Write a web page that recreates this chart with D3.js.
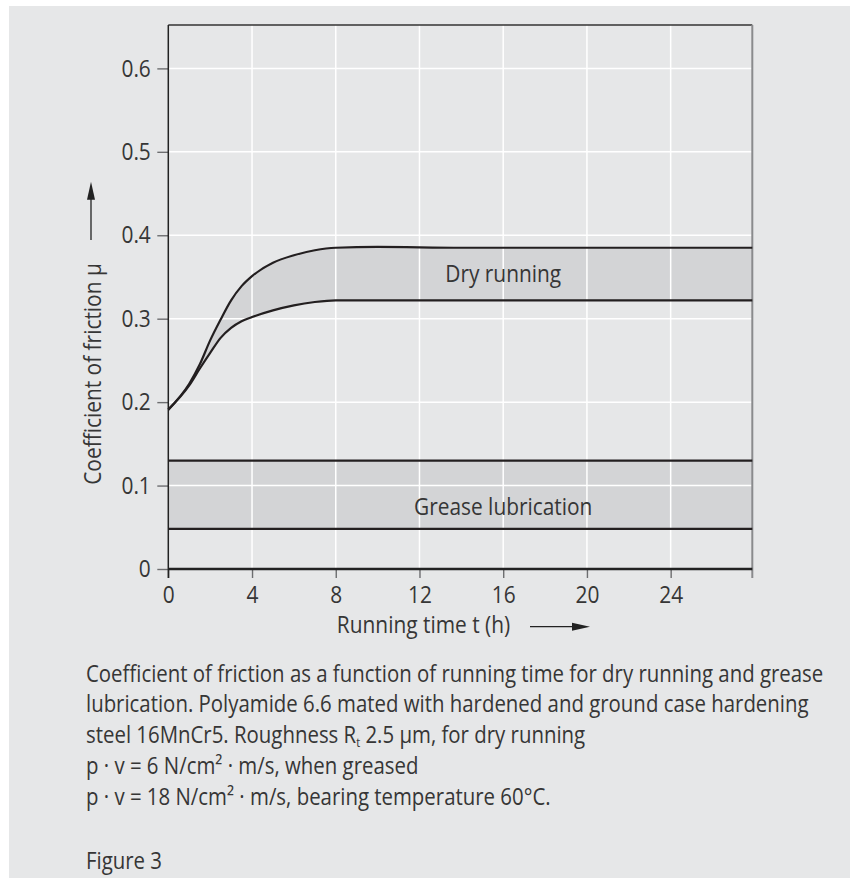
<!DOCTYPE html>
<html>
<head>
<meta charset="utf-8">
<script src="https://cdn.jsdelivr.net/npm/d3@7"></script>
<style>
  html, body { margin: 0; padding: 0; background: #fff; }
  svg { display: block; }
  text { font-family: "Open Sans", "Noto Sans", sans-serif; font-weight: 400; fill: #363636; }
</style>
</head>
<body>
<div id="chart"></div>
<script>
// running time (h) on a shared grid for the dry running band
var dryTime  = [0, 1, 1.5, 2, 2.5, 3, 3.5, 4, 5, 6, 7, 8, 10, 14, 27.9];
var dryUpper = [0.191, 0.222, 0.245, 0.274, 0.299, 0.322, 0.339, 0.351, 0.367, 0.376, 0.382, 0.385, 0.386, 0.385, 0.385];
var dryLower = [0.191, 0.220, 0.240, 0.259, 0.277, 0.289, 0.297, 0.302, 0.310, 0.316, 0.320, 0.322, 0.322, 0.322, 0.322];

// grease lubrication band, flat over the whole running time
var greaseTime  = [0, 27.9];
var greaseUpper = [0.130, 0.130];
var greaseLower = [0.048, 0.048];

var xTicks = [0, 4, 8, 12, 16, 20, 24];
var yTicks = [0, 0.1, 0.2, 0.3, 0.4, 0.5, 0.6];

var bandLabels = [
  { text: "Dry running", t: 16, mu: 0.344 },
  { text: "Grease lubrication", t: 16, mu: 0.065 }
];

var captionLines = [
  "Coefficient of friction as a function of running time for dry running and grease",
  "lubrication. Polyamide 6.6 mated with hardened and ground case hardening",
  ["steel 16MnCr5. Roughness R", "t", " 2.5 μm, for dry running"],
  "p · v = 6 N/cm² · m/s, when greased",
  "p · v = 18 N/cm² · m/s, bearing temperature 60°C."
];
var figureLabel = "Figure 3";

var W = 850, H = 878;
var margin = { top: 25, left: 168.3, right: 97.7, bottom: 309 };
var xMax = 27.9, yMax = 0.652;
var fontSize = 24;
// the original type is a condensed face
var squeeze = 0.87, captionSqueeze = 0.85;

var svg = d3.select("#chart").append("svg")
  .attr("width", W)
  .attr("height", H);

svg.append("rect")
  .attr("x", 9).attr("y", 6)
  .attr("width", W - 9).attr("height", H - 6)
  .attr("fill", "#e6e7e8");

var x = d3.scaleLinear().domain([0, xMax]).range([margin.left, W - margin.right]);
var y = d3.scaleLinear().domain([0, yMax]).range([H - margin.bottom, margin.top]);

var dry = dryTime.map((t, i) => ({ t: t, hi: dryUpper[i], lo: dryLower[i] }));
var grease = greaseTime.map((t, i) => ({ t: t, hi: greaseUpper[i], lo: greaseLower[i] }));

var area = d3.area()
  .x(d => x(d.t))
  .y0(d => y(d.lo))
  .y1(d => y(d.hi))
  .curve(d3.curveMonotoneX);

var lineHi = d3.line().x(d => x(d.t)).y(d => y(d.hi)).curve(d3.curveMonotoneX);
var lineLo = d3.line().x(d => x(d.t)).y(d => y(d.lo)).curve(d3.curveMonotoneX);

// band fills first, the white grid runs across them
[dry, grease].forEach(band => {
  svg.append("path").datum(band)
    .attr("d", area)
    .attr("fill", "#d3d4d6");
});

var grid = svg.append("g");
grid.selectAll(".gx")
  .data(xTicks.filter(d => d > 0))
  .enter().append("line")
  .attr("x1", d => x(d)).attr("x2", d => x(d))
  .attr("y1", y(yMax)).attr("y2", y(0))
  .attr("stroke", "#fff").attr("stroke-width", 1.5);
grid.selectAll(".gy")
  .data(yTicks.filter(d => d > 0))
  .enter().append("line")
  .attr("x1", x(0)).attr("x2", x(xMax))
  .attr("y1", d => y(d)).attr("y2", d => y(d))
  .attr("stroke", "#fff").attr("stroke-width", 1.5);

// axes
var yAxis = svg.append("g")
  .attr("transform", `translate(${x(0)},0)`)
  .call(d3.axisLeft(y)
    .tickValues(yTicks)
    .tickSize(11)
    .tickPadding(6.5)
    .tickFormat(d => d === 0 ? "0" : d3.format(".1f")(d)));

var xAxis = svg.append("g")
  .attr("transform", `translate(0,${y(0)})`)
  .call(d3.axisBottom(x)
    .tickValues(xTicks)
    .tickSize(9)
    .tickPadding(8)
    .tickFormat(d3.format("d")));

[xAxis, yAxis].forEach(g => {
  g.select(".domain").remove();
  g.selectAll(".tick line").attr("stroke", "#6d6e70").attr("stroke-width", 1.4);
  g.selectAll(".tick text")
    .attr("fill", "#363636")
    .style("font-size", fontSize + "px");
  g.attr("font-family", null).attr("font-size", null);
});

// frame
svg.append("line")
  .attr("x1", x(0)).attr("x2", x(xMax))
  .attr("y1", y(yMax)).attr("y2", y(yMax))
  .attr("stroke", "#333").attr("stroke-width", 1.4);
svg.append("line")
  .attr("x1", x(xMax)).attr("x2", x(xMax))
  .attr("y1", y(yMax)).attr("y2", y(0) + 9)
  .attr("stroke", "#8a8b8d").attr("stroke-width", 2);
svg.append("line")
  .attr("x1", x(0)).attr("x2", x(0))
  .attr("y1", y(yMax)).attr("y2", y(0) + 9)
  .attr("stroke", "#222").attr("stroke-width", 1.5);
svg.append("line")
  .attr("x1", x(0)).attr("x2", x(xMax))
  .attr("y1", y(0)).attr("y2", y(0))
  .attr("stroke", "#222").attr("stroke-width", 2.4);

// band outlines
[dry, grease].forEach(band => {
  [lineHi, lineLo].forEach(l => {
    svg.append("path").datum(band)
      .attr("d", l)
      .attr("fill", "none")
      .attr("stroke", "#231f20")
      .attr("stroke-width", 2.2);
  });
});

var chartText = svg.append("g");

chartText.selectAll(".band-label")
  .data(bandLabels)
  .enter().append("text")
  .attr("x", d => x(d.t))
  .attr("y", d => y(d.mu))
  .attr("text-anchor", "middle")
  .style("font-size", fontSize + "px")
  .text(d => d.text);

// axis titles with their arrows
chartText.append("text")
  .attr("transform", "translate(101,374) rotate(-90)")
  .attr("text-anchor", "middle")
  .style("font-size", fontSize + "px")
  .text("Coefficient of friction μ");

svg.append("line")
  .attr("x1", 91).attr("x2", 91)
  .attr("y1", 240).attr("y2", 196)
  .attr("stroke", "#222").attr("stroke-width", 1.3);
svg.append("path")
  .attr("d", "M91,181.7 L95,199.7 L87,199.7 Z")
  .attr("fill", "#222");

chartText.append("text")
  .attr("x", 423.5).attr("y", 633)
  .attr("text-anchor", "middle")
  .style("font-size", fontSize + "px")
  .text("Running time t (h)");

svg.append("line")
  .attr("x1", 530).attr("x2", 576)
  .attr("y1", 626.7).attr("y2", 626.7)
  .attr("stroke", "#222").attr("stroke-width", 1.3);
svg.append("path")
  .attr("d", "M590,626.7 L572,622.7 L572,630.7 Z")
  .attr("fill", "#222");

// caption
var cap = svg.append("g");
captionLines.forEach((line, i) => {
  var t = cap.append("text")
    .attr("x", 86)
    .attr("y", 681.7 + i * 30.8)
    .style("font-size", fontSize + "px");
  if (Array.isArray(line)) {
    t.append("tspan").text(line[0]);
    t.append("tspan").attr("dy", 4).style("font-size", "13px").text(line[1]);
    t.append("tspan").attr("dy", -4).text(line[2]);
  } else {
    t.text(line);
  }
});
cap.append("text")
  .attr("x", 86).attr("y", 869)
  .style("font-size", fontSize + "px")
  .text(figureLabel);

// narrow the labels horizontally around their anchor, like the condensed original face
function condense(sel, k) {
  sel.each(function () {
    var t = d3.select(this);
    var tr = t.attr("transform");
    if (tr) {
      t.attr("transform", `${tr} scale(${k},1)`);
    } else {
      var x0 = +t.attr("x") || 0;
      t.attr("transform", `translate(${x0},0) scale(${k},1) translate(${-x0},0)`);
    }
  });
}
condense(svg.selectAll(".tick text"), squeeze);
condense(chartText.selectAll("text"), squeeze);
condense(cap.selectAll("text"), captionSqueeze);
</script>
</body>
</html>
